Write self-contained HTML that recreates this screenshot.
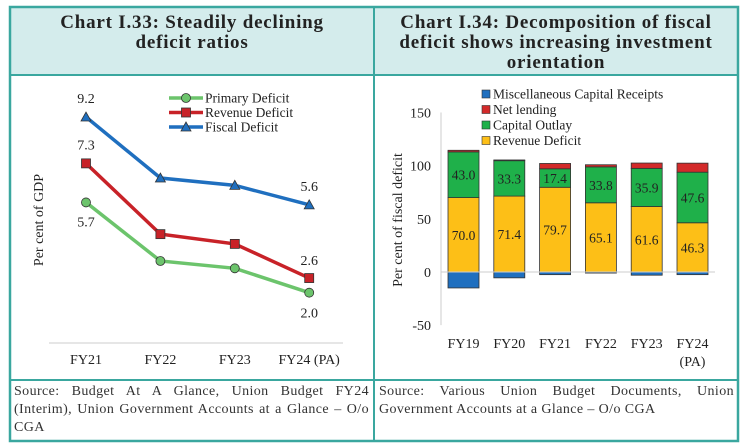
<!DOCTYPE html>
<html><head><meta charset="utf-8"><style>
body{margin:0;width:741px;height:448px;background:#fff;font-family:"Liberation Serif",serif;overflow:hidden}
svg{position:absolute;left:0;top:0}
.src{position:absolute;font-size:14px;letter-spacing:0.4px;line-height:18px;color:#333;text-align:justify}
</style></head><body>
<svg width="741" height="448">
<rect x="10" y="7" width="728" height="68" fill="#d4ecec"/>
<rect x="10" y="7" width="728" height="434" fill="none" stroke="#3aa79f" stroke-width="2.5"/>
<line x1="10" y1="75" x2="738" y2="75" stroke="#3aa79f" stroke-width="2"/>
<line x1="10" y1="380" x2="738" y2="380" stroke="#3aa79f" stroke-width="2"/>
<line x1="374" y1="7" x2="374" y2="441" stroke="#3aa79f" stroke-width="2"/>
<g font-weight="bold" font-size="19" letter-spacing="0.8" fill="#222" text-anchor="middle">
<text x="192" y="28">Chart I.33: Steadily declining<tspan x="192" dy="20">deficit ratios</tspan></text>
<text x="556" y="28">Chart I.34: Decomposition of fiscal<tspan x="556" dy="20">deficit shows increasing investment</tspan><tspan x="556" dy="20">orientation</tspan></text>
</g>
<g id="left"></g>
<g id="right"></g>
</svg>
<div class="src" style="left:14px;top:383px;width:355px">Source: Budget At A Glance, Union Budget FY24 (Interim), Union Government Accounts at a Glance – O/o CGA</div>
<div class="src" style="left:379px;top:383px;width:355px">Source: Various Union Budget Documents, Union Government Accounts at a Glance – O/o CGA</div>
<script>
const lineCats=["FY21","FY22","FY23","FY24 (PA)"];
const primary=[5.7,3.3,3.0,2.0];
const revenue=[7.3,4.4,4.0,2.6];
const fiscal=[9.2,6.7,6.4,5.6];
const barCats=["FY19","FY20","FY21","FY22","FY23","FY24"];
const revDef=[70.0,71.4,79.7,65.1,61.6,46.3];
const capOut=[43.0,33.3,17.4,33.8,35.9,47.6];
const netLend=[1.5,0.7,5.0,2.0,5.0,8.5];
const miscCap=[-15,-5.5,-2.5,-1,-3,-2.5];
const yTicks=[150,100,50,0,-50];
const NS="http://www.w3.org/2000/svg";
function mk(p,t,a,txt){const e=document.createElementNS(NS,t);for(const k in a)e.setAttribute(k,a[k]);if(txt!==undefined)e.textContent=txt;p.appendChild(e);return e;}
// Left chart
const L=document.getElementById('left');
const lx=i=>86+i*74.4, ly=v=>341.5-v*24.4;
let e=mk(L,'line',{x1:49,y1:343,x2:343,y2:343,stroke:'#ccc'});


lineCats.forEach((c,i)=>{const t=mk(L,'text',{x:lx(i),y:364,'font-size':14,'text-anchor':'middle',fill:'#222'},c);

});
e=mk(L,'text',{x:0,y:0,'font-size':14,'text-anchor':'middle',fill:'#222',transform:'translate(43,220) rotate(-90)'},'Per cent of GDP');


const series=[[primary,'#6cc46c','circle','primary-deficit'],[revenue,'#c82228','square','revenue-deficit'],[fiscal,'#1f6fbf','tri','fiscal-deficit']];
function marker(g,type,x,y,col){
 if(type==='circle')return mk(g,'circle',{cx:x,cy:y,r:4.5,fill:col,stroke:'#333','stroke-width':0.8});
 if(type==='square')return mk(g,'rect',{x:x-4.5,y:y-4.5,width:9,height:9,fill:col,stroke:'#333','stroke-width':0.8});
 return mk(g,'polygon',{points:`${x},${y-5} ${x+5},${y+4} ${x-5},${y+4}`,fill:col,stroke:'#333','stroke-width':0.8});
}
series.forEach(([d,col,type,name])=>{
 const g=mk(L,'g',{});
 
 
 mk(g,'polyline',{points:d.map((v,i)=>lx(i)+','+ly(v)).join(' '),fill:'none',stroke:col,'stroke-width':3.5});
 d.forEach((v,i)=>{const m=marker(g,type,lx(i),ly(v),col);
 
 });
});
const lbls=[[fiscal,0,-14],[revenue,0,-14],[primary,0,24],[fiscal,3,-14],[revenue,3,-13],[primary,3,25]];
lbls.forEach(([d,i,dy])=>{const t=mk(L,'text',{x:lx(i),y:ly(d[i])+dy,'font-size':14,'text-anchor':'middle',fill:'#222'},d[i].toFixed(1));

});
const legNames=['Primary Deficit','Revenue Deficit','Fiscal Deficit'];
series.forEach(([d,col,type,name],k)=>{const g=mk(L,'g',{});
 
 
 const y=98+k*14.5;
 mk(g,'line',{x1:169,y1:y,x2:203,y2:y,stroke:col,'stroke-width':3.5});
 marker(g,type,186,y,col);
 mk(g,'text',{x:205,y:y+4.5,'font-size':13.5,fill:'#222'},legNames[k]);});
// Right chart
const R=document.getElementById('right');
const bx=i=>463.5+i*45.8, by=v=>272-v*1.063, bw=31;
e=mk(R,'line',{x1:441,y1:by(150),x2:441,y2:by(-50),stroke:'#ccc'});


yTicks.forEach(v=>{const t=mk(R,'text',{x:431,y:by(v)+5,'font-size':14,'text-anchor':'end',fill:'#222'},v);

});
e=mk(R,'text',{x:0,y:0,'font-size':14,'text-anchor':'middle',fill:'#222',transform:'translate(402,220) rotate(-90)'},'Per cent of fiscal deficit');


barCats.forEach((c,i)=>{
 const x=bx(i)-bw/2;
 let r=mk(R,'rect',{x:x,y:by(0),width:bw,height:by(miscCap[i])-by(0),fill:'#1f6fbf',stroke:'#333','stroke-width':0.8});
 
 
 let base=0;
 [[revDef,'#fdbf17','bar-revenue-deficit'],[capOut,'#1fb04a','bar-capital-outlay'],[netLend,'#d32a2a','bar-net-lending']].forEach(([d,col,nm],k)=>{
  r=mk(R,'rect',{x:x,y:by(base+d[i]),width:bw,height:by(base)-by(base+d[i]),fill:col,stroke:'#333','stroke-width':0.8});
  
  
  if(k<2){const t=mk(R,'text',{x:bx(i),y:by(base+d[i]/2)+5,'font-size':13.5,'text-anchor':'middle',fill:'#222'},d[i].toFixed(1));
  
  }
  base+=d[i];
 });
 const t=mk(R,'text',{x:bx(i),y:348,'font-size':14,'text-anchor':'middle',fill:'#222'},c);
 
 
});
mk(R,'text',{x:bx(5),y:366,'font-size':14,'text-anchor':'middle',fill:'#222'},'(PA)');
e=mk(R,'line',{x1:441,y1:by(0),x2:715,y2:by(0),stroke:'#ccc'});


const bl=[['Miscellaneous Capital Receipts','#1f6fbf'],['Net lending','#d32a2a'],['Capital Outlay','#1fb04a'],['Revenue Deficit','#fdbf17']];
bl.forEach(([n,col],k)=>{const g=mk(R,'g',{});
 
 
 const y=94+k*15.5;
 mk(g,'rect',{x:482,y:y-4,width:8,height:8,fill:col,stroke:'#333','stroke-width':0.6});
 mk(g,'text',{x:493,y:y+4.5,'font-size':13.5,fill:'#222'},n);});
</script>
</body></html>
